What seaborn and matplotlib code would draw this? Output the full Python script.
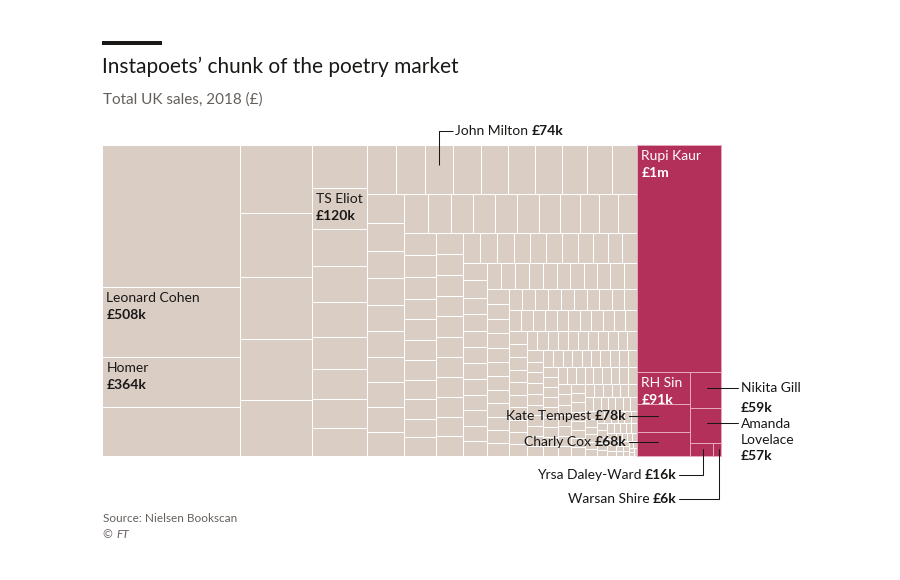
import matplotlib
matplotlib.use("Agg")
import matplotlib.pyplot as plt
from matplotlib.patches import Rectangle
import seaborn as sns

sns.set_theme(style="white")
plt.rcParams['font.family'] = ['Lato', 'DejaVu Sans']

# ---------------- data (sales, £k) ----------------
pink_names = ["Rupi Kaur", "RH Sin", "Kate Tempest", "Charly Cox", "Nikita Gill",
              "Amanda Lovelace", "Yrsa Daley-Ward", "Warsan Shire"]
pink_values = [1010, 91, 78, 68, 59, 57, 16, 6]
pink_labels = ["£1m", "£91k", "£78k", "£68k", "£59k", "£57k", "£16k", "£6k"]

grey_named = {"Leonard Cohen": 508, "Homer": 364, "TS Eliot": 120, "John Milton": 74}
grey_named_labels = {"Leonard Cohen": "£508k", "Homer": "£364k", "TS Eliot": "£120k",
                     "John Milton": "£74k"}

# other poets, read strip by strip off the picture
g_col1 = [1030, 508, 364, 358]
g_col2 = [259, 244, 236, 232, 213]
g_col3 = [125, 120, 108, 105, 101, 92, 88, 84, 82]
g_row4 = [76, 75, 74, 72, 71, 70, 69, 67, 65, 63]
g_col5 = [58, 56, 54, 53, 52, 52, 51, 50, 49, 48]
g_row6 = [47.5, 47, 46.5, 45.5, 45, 44, 42.5, 41, 40, 39, 38]
g_col7 = [37, 36, 35, 34, 34, 33, 33, 32, 31.5, 31, 30.5]
g_col8 = [30, 30, 29.5, 29, 29, 29, 28.5, 28.5, 28, 28, 27.8]
g_row9 = [27.5, 27, 26.5, 26, 25.5, 25, 24.5, 24, 23.5, 23, 23]
g_col10 = [22.5, 22, 21.5, 21, 21, 20.5, 20.5, 20, 20, 19.8, 19.6, 19.5]
g_row11 = [19.4, 19.2, 19, 18.8, 18.6, 18.5, 18.3, 18.2, 18, 17.9, 17.8]
g_col12 = [17.6, 17.2, 16.8, 16.5, 16.3, 16.1, 15.9, 15.7, 15.5, 15.3, 15.1]
g_row13 = [15, 15, 14.9, 14.8, 14.7, 14.6, 14.5, 14.4, 14.3, 14.2]
g_row14 = [14, 13.5, 13.3, 13.1, 13, 12.9, 12.8, 12.7, 12.6, 12.5, 12.4]
g_t1 = [12.4, 12.3, 12.2, 12.1, 12.0, 11.9, 11.8, 11.7, 11.6, 11.5]
g_t2 = [11.2, 11.0, 10.8, 10.6, 10.5, 10.4, 10.3, 10.2, 10.1, 10.0]
g_t3 = [9.9, 9.8, 9.7, 9.6, 9.5, 9.4, 9.3, 9.2, 9.1]
g_t4 = [9.0, 8.9, 8.8, 8.7, 8.6, 8.5, 8.4, 8.3, 8.2, 8.1]
g_t5 = [8.1, 8.0, 8.0, 8.0, 7.9, 7.9, 7.9, 7.8, 7.8, 7.8, 7.7, 7.7, 7.7, 7.6]
g_t6 = [7.6, 7.6, 7.6, 7.5, 7.5, 7.5, 7.5, 7.4, 7.4, 7.4, 7.3, 7.2, 7.1, 7.0,
        6.9, 6.8, 6.7, 6.6]
g_t7 = [6.5, 6.5, 6.4, 6.4, 6.3, 6.2, 6.1, 6.0, 5.9, 5.8, 5.7, 5.6, 5.5, 5.4]
g_t8 = [5.3, 5.2, 5.1, 5.0, 4.9, 4.8, 4.7, 4.6, 4.5, 4.4, 4.3, 4.2]
g_t9 = [4.1, 4.0, 3.9, 3.8, 3.7, 3.6, 3.5, 3.4, 3.3, 3.2, 3.1, 3.0]
g_t10 = [2.9, 2.8, 2.7, 2.6, 2.5, 2.4, 2.3, 2.2, 2.1, 2.0, 1.9, 1.8]
g_t11 = [1.7, 1.6, 1.5, 1.4, 1.3, 1.2, 1.1, 1.0]

grey_values = sorted(g_col1 + g_col2 + g_col3 + g_row4 + g_col5 + g_row6 + g_col7 +
                     g_col8 + g_row9 + g_col10 + g_row11 + g_col12 + g_row13 +
                     g_row14 + g_t1 + g_t2 + g_t3 + g_t4 + g_t5 + g_t6 + g_t7 +
                     g_t8 + g_t9 + g_t10 + g_t11, reverse=True)

# ---------------- style ----------------
GREY = "#d9cdc4"
PINK = "#b3305b"
INK = "#1a1817"
MUTED = "#66605c"
PHI = (1 + 5 ** 0.5) / 2

# ---------------- squarified treemap (d3 style) ----------------
def squarify(values, x0, y0, x1, y1, ratio=PHI):
    n = len(values)
    rects = [None] * n
    value = float(sum(values))
    i0 = i1 = 0
    while i0 < n:
        dx, dy = x1 - x0, y1 - y0
        sumv = values[i1]
        i1 += 1
        minv = maxv = sumv
        alpha = max(dy / dx, dx / dy) / (value * ratio)
        beta = sumv * sumv * alpha
        minr = max(maxv / beta, beta / minv)
        while i1 < n:
            nv = values[i1]
            s = sumv + nv
            mn, mx = min(minv, nv), max(maxv, nv)
            beta = s * s * alpha
            nr = max(mx / beta, beta / mn)
            if nr > minr:
                break
            sumv, minv, maxv, minr = s, mn, mx, nr
            i1 += 1
        row = values[i0:i1]
        if dx < dy:
            yb = y0 + dy * sumv / value
            k = dx / sumv
            xx = x0
            for j, v in enumerate(row):
                rects[i0 + j] = (xx, y0, xx + v * k, yb)
                xx += v * k
            y0 = yb
        else:
            xb = x0 + dx * sumv / value
            k = dy / sumv
            yy = y0
            for j, v in enumerate(row):
                rects[i0 + j] = (x0, yy, xb, yy + v * k)
                yy += v * k
            x0 = xb
        value -= sumv
        i0 = i1
    return rects

# box of the treemap on the canvas (pixel units)
BX, BY, BW, BH = 102, 145, 619, 311
STRETCH = 1.12  # layout computed in a slightly wider frame

root = squarify([sum(grey_values), sum(pink_values)], 0, 0, BW * STRETCH, BH)
grey_r = squarify(grey_values, *root[0])
pink_r = squarify(pink_values, *root[1])

def to_canvas(r):
    return (BX + r[0] / STRETCH, BY + r[1], BX + r[2] / STRETCH, BY + r[3])

grey_r = [to_canvas(r) for r in grey_r]
pink_r = [to_canvas(r) for r in pink_r]

# ---------------- figure ----------------
fig = plt.figure(figsize=(9, 5.8), dpi=100)
fig.patch.set_facecolor("white")
ax = fig.add_axes([0, 0, 1, 1])
ax.set_xlim(0, 900)
ax.set_ylim(580, 0)
ax.axis("off")

for r in grey_r:
    ax.add_patch(Rectangle((r[0], r[1]), r[2] - r[0], r[3] - r[1],
                           facecolor=GREY, edgecolor="white", linewidth=0.7))
for r in pink_r:
    ax.add_patch(Rectangle((r[0], r[1]), r[2] - r[0], r[3] - r[1],
                           facecolor=PINK, edgecolor="#e7a9bd", linewidth=0.7))

renderer = fig.canvas.get_renderer()
FS = 10

def width_of(t):
    return t.get_window_extent(renderer=renderer).width

def mixed(x, y, parts, ha="left", color=INK, gap=3.5):
    """parts: list of (text, weight)."""
    if ha == "left":
        cx = x
        for s, w in parts:
            t = ax.text(cx, y, s, fontsize=FS, fontweight=w, color=color,
                        ha="left", va="center")
            cx += width_of(t) + gap
    else:
        cx = x
        for s, w in reversed(parts):
            t = ax.text(cx, y, s, fontsize=FS, fontweight=w, color=color,
                        ha="right", va="center")
            cx -= width_of(t) + gap

def cell_label(r, name, val, color):
    ax.text(r[0] + 4.5, r[1] + 11, name, fontsize=FS, color=color, va="center")
    ax.text(r[0] + 4.5, r[1] + 28, val, fontsize=FS, color=color,
            fontweight="bold", va="center")

LW = 0.75
# grey labels
gidx = {k: grey_values.index(v) for k, v in grey_named.items()}
for k in ["Leonard Cohen", "Homer", "TS Eliot"]:
    cell_label(grey_r[gidx[k]], k, grey_named_labels[k], INK)

# John Milton callout
r = grey_r[gidx["John Milton"]]
mx = (r[0] + r[2]) / 2
ly = r[1] - 14
ax.plot([mx, mx, mx + 14], [r[1] + 20, ly, ly], color=INK, lw=LW,
        solid_capstyle="butt")
mixed(mx + 16, ly, [("John Milton", "normal"), ("£74k", "bold")])

# pink labels inside
cell_label(pink_r[0], pink_names[0], pink_labels[0], "white")
cell_label(pink_r[1], pink_names[1], pink_labels[1], "white")

# Kate Tempest, Charly Cox (left callouts)
for i in (2, 3):
    r = pink_r[i]
    cy = (r[1] + r[3]) / 2 - 2
    ax.plot([r[0] - 8, r[0] + 21], [cy, cy], color=INK, lw=LW)
    mixed(r[0] - 10, cy, [(pink_names[i], "normal"), (pink_labels[i], "bold")],
          ha="right")

# Nikita Gill, Amanda Lovelace (right callouts)
r = pink_r[4]
cx = (r[0] + r[2]) / 2 + 2
cy = (r[1] + r[3]) / 2 - 2
ax.plot([cx, r[2] + 17], [cy, cy], color=INK, lw=LW)
ax.text(r[2] + 20, cy, "Nikita Gill", fontsize=FS, color=INK, va="center")
ax.text(r[2] + 20, cy + 20, pink_labels[4], fontsize=FS, color=INK,
        fontweight="bold", va="center")

r = pink_r[5]
cx = (r[0] + r[2]) / 2 + 2
cy = (r[1] + r[3]) / 2 - 2
ax.plot([cx, r[2] + 17], [cy, cy], color=INK, lw=LW)
ax.text(r[2] + 20, cy + 1, "Amanda", fontsize=FS, color=INK, va="center")
ax.text(r[2] + 20, cy + 17, "Lovelace", fontsize=FS, color=INK, va="center")
ax.text(r[2] + 20, cy + 33, pink_labels[5], fontsize=FS, color=INK,
        fontweight="bold", va="center")

# Yrsa Daley-Ward, Warsan Shire (below callouts)
text_right = root[1][0] / STRETCH + BX + 40
for i, drop in ((6, 19), (7, 43)):
    r = pink_r[i]
    cx = (r[0] + r[2]) / 2 + 2
    ty = r[3] + drop
    ax.plot([cx, cx, text_right + 2], [r[1] + 6, ty, ty], color=INK, lw=LW)
    mixed(text_right, ty, [(pink_names[i], "normal"), (pink_labels[i], "bold")],
          ha="right")

# ---------------- titles ----------------
ax.add_patch(Rectangle((102, 41), 60, 4, facecolor=INK, edgecolor="none"))
ax.text(102, 67, "Instapoets’ chunk of the poetry market", fontsize=15,
        color=INK, va="center", ha="left")
ax.text(103, 100, "Total UK sales, 2018 (£)", fontsize=11, color=MUTED,
        va="center", ha="left")
ax.text(103, 518, "Source: Nielsen Bookscan", fontsize=8.5, color=MUTED,
        va="center", ha="left")
ax.text(103, 534, "© ", fontsize=8.5, color=MUTED, va="center", ha="left")
ax.text(116, 534, "FT", fontsize=8.5, color=MUTED, va="center", ha="left",
        style="italic")

fig.savefig("out.png", dpi=100, facecolor="white")
